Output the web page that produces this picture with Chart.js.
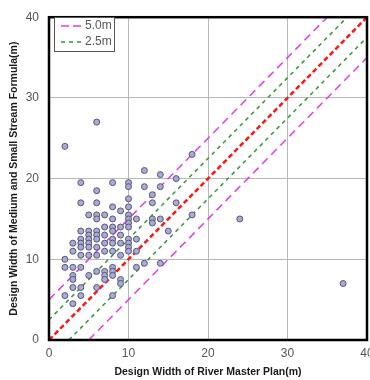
<!DOCTYPE html>
<html>
<head>
<meta charset="utf-8">
<script src="https://cdn.jsdelivr.net/npm/chart.js@4"></script>
<style>
  html, body { margin: 0; padding: 0; background: #fff; overflow: hidden; }
  #wrap { width: 380px; height: 380px; }
</style>
</head>
<body>
<div id="wrap"><canvas id="myChart" width="380" height="380"></canvas></div>
<script>
// River master plan width (x) vs. medium/small stream formula width (y), in metres
const planWidth = [
    2, 2, 2, 2,
    3, 3, 3, 3, 3, 3, 3,
    4, 4, 4, 4, 4, 4, 4, 4, 4, 4,
    5, 5, 5, 5, 5, 5, 5, 5,
    6, 6, 6, 6, 6, 6, 6, 6, 6, 6, 6, 6,
    7, 7, 7, 7, 7, 7, 7, 7,
    8, 8, 8, 8, 8, 8, 8, 8, 8, 8, 8, 8,
    9, 9, 9, 9, 9, 9, 9,
    10, 10, 10, 10, 10, 10, 10, 10, 10, 10, 10, 10,
    11, 11, 11, 11,
    12, 12, 12,
    13, 13, 13, 13,
    14, 14, 14, 14,
    15,
    16, 16,
    18, 18,
    24,
    37
];
const formulaWidth = [
    24, 10, 9, 5.5,
    12, 11, 9, 8, 7.5, 6.5, 4.5,
    19.5, 17, 13.5, 12.5, 12, 11.5, 10.5, 9, 6.5, 5.5,
    15.5, 13.5, 13, 12.5, 12, 11.5, 10.5, 8,
    27, 18.5, 17, 15.5, 15, 13.5, 13, 12.5, 11.5, 10.5, 8.5, 6.5,
    15.5, 14, 13, 12, 11, 8.5, 8, 7.5,
    19.5, 16.5, 15, 14, 13.5, 12.5, 12, 11, 9, 8.5, 8, 5.5,
    16, 14, 13, 12, 10.5, 7.5, 7,
    19.5, 19, 17.5, 16.5, 15.5, 15, 14.5, 14, 12.5, 12, 11.5, 11,
    15, 12.5, 11, 9,
    21, 19, 9.5,
    18, 17, 15, 14.5,
    20.5, 19, 15, 9.5,
    13.5,
    20, 17,
    23, 15.5,
    15,
    7
];

// reference lines: 1:1 and +/-2.5 m, +/-5.0 m bands
const lineEqual = [{x: 0, y: 0}, {x: 40, y: 40}];
const lineUp25 = [{x: 0, y: 2.5}, {x: 37.5, y: 40}];
const lineDown25 = [{x: 2.5, y: 0}, {x: 40, y: 37.5}];
const lineUp50 = [{x: 0, y: 5}, {x: 35, y: 40}];
const lineDown50 = [{x: 5, y: 0}, {x: 40, y: 35}];

const legendLabels = ['5.0m', '2.5m'];
const xTitle = 'Design Width of River Master Plan(m)';
const yTitle = 'Design Width of Medium and Small Stream Formula(m)';

const MAGENTA = 'rgb(225, 60, 225)';
const GREEN = 'rgb(50, 150, 50)';
const RED = 'rgb(255, 20, 20)';

const points = planWidth.map((x, i) => ({x: x, y: formulaWidth[i]}));

function refLine(data, color, width, dash) {
    return {
        type: 'line',
        data: data,
        borderColor: color,
        borderWidth: width,
        borderDash: dash,
        pointRadius: 0,
        fill: false,
        showLine: true
    };
}

// frame around the plot plus the small boxed legend in the corner
const framePlugin = {
    id: 'frame',
    afterDraw(chart) {
        const ctx = chart.ctx;
        const a = chart.chartArea;
        ctx.save();
        ctx.strokeStyle = '#000';
        ctx.lineWidth = 2.5;
        ctx.strokeRect(a.left, a.top, a.right - a.left, a.bottom - a.top);

        const bx = 54, by = 17, bw = 60, bh = 34;
        ctx.fillStyle = '#fff';
        ctx.fillRect(bx, by, bw, bh);
        ctx.strokeStyle = '#555';
        ctx.lineWidth = 1;
        ctx.strokeRect(bx + 0.5, by + 0.5, bw, bh);

        const rows = [
            {label: legendLabels[0], color: MAGENTA, dash: [8, 4]},
            {label: legendLabels[1], color: GREEN, dash: [4, 4]}
        ];
        rows.forEach((r, i) => {
            const y = by + 9 + i * 16;
            ctx.strokeStyle = r.color;
            ctx.lineWidth = 1.5;
            ctx.setLineDash(r.dash);
            ctx.beginPath();
            ctx.moveTo(61, y);
            ctx.lineTo(83, y);
            ctx.stroke();
            ctx.setLineDash([]);
            ctx.fillStyle = '#555';
            ctx.font = '12px "Liberation Sans", Arial, sans-serif';
            ctx.textBaseline = 'middle';
            ctx.textAlign = 'left';
            ctx.fillText(r.label, 85, y);
        });
        ctx.restore();
    }
};

const ctx = document.getElementById('myChart').getContext('2d');
new Chart(ctx, {
    type: 'scatter',
    data: {
        datasets: [
            {
                data: points,
                backgroundColor: 'rgb(170, 170, 215)',
                borderColor: 'rgb(85, 85, 120)',
                borderWidth: 1,
                pointRadius: 3,
                pointHoverRadius: 3
            },
            refLine(lineEqual, RED, 2.5, [5, 3]),
            refLine(lineUp25, GREEN, 1.5, [4, 4]),
            refLine(lineDown25, GREEN, 1.5, [4, 4]),
            refLine(lineUp50, MAGENTA, 1.5, [8, 5]),
            refLine(lineDown50, MAGENTA, 1.5, [8, 5])
        ]
    },
    options: {
        responsive: false,
        animation: false,
        layout: {
            padding: {left: 0, top: 12, right: 13, bottom: 0}
        },
        plugins: {
            legend: {display: false},
            tooltip: {enabled: false}
        },
        scales: {
            x: {
                type: 'linear',
                min: 0,
                max: 40,
                ticks: {
                    stepSize: 10,
                    color: '#555',
                    padding: 6,
                    font: {family: '"Liberation Sans", Arial, sans-serif', size: 12}
                },
                grid: {color: '#b8b8b8', lineWidth: 1, drawTicks: false},
                border: {display: false},
                title: {
                    display: true,
                    text: xTitle,
                    color: '#1a1a1a',
                    padding: {top: 0, bottom: 2},
                    font: {family: '"Liberation Sans", Arial, sans-serif', size: 10.5, weight: 'bold'}
                },
                afterFit(scale) { scale.height = 40; }
            },
            y: {
                type: 'linear',
                min: 0,
                max: 40,
                ticks: {
                    stepSize: 10,
                    color: '#555',
                    padding: 10,
                    font: {family: '"Liberation Sans", Arial, sans-serif', size: 12}
                },
                grid: {color: '#b8b8b8', lineWidth: 1, drawTicks: false},
                border: {display: false},
                title: {
                    display: true,
                    text: yTitle,
                    color: '#1a1a1a',
                    padding: {top: 8, bottom: 0},
                    font: {family: '"Liberation Sans", Arial, sans-serif', size: 10.5, weight: 'bold'}
                },
                afterFit(scale) { scale.width = 49; }
            }
        }
    },
    plugins: [framePlugin]
});
</script>
</body>
</html>
